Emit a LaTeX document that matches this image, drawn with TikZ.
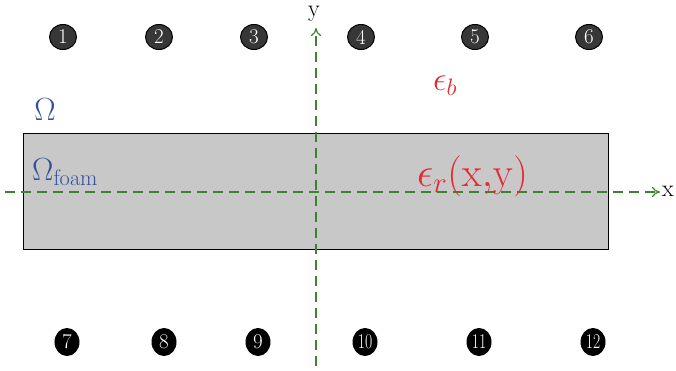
\RequirePackage{fix-cm}
\documentclass[tikz,border=0pt]{standalone}
\usetikzlibrary{shapes.geometric,arrows.meta}
\definecolor{boxgray}{RGB}{200,200,200}
\definecolor{topfill}{RGB}{55,55,55}
\definecolor{axgreen}{RGB}{60,130,50}
\definecolor{omblue}{RGB}{50,80,160}
\definecolor{epsred}{RGB}{230,40,50}
\tikzset{
  topnum/.style={ellipse,draw=black,line width=1pt,fill=topfill,text=white,
    minimum width=27pt,minimum height=25pt,inner sep=0pt,font=\fontsize{21}{21}\selectfont},
  botnum/.style={ellipse,draw=black,line width=1pt,fill=black,text=white,
    minimum width=24pt,minimum height=27pt,inner sep=0pt,font=\fontsize{21}{21}\selectfont},
  axisline/.style={draw=axgreen,line width=1.2pt,dash pattern=on 10pt off 6pt,-{To[length=8pt,width=10pt]}},
  axlabel/.style={inner sep=0pt,font=\fontsize{24}{24}\selectfont},
  bluelab/.style={text=omblue,inner sep=0pt,font=\fontsize{32}{32}\selectfont},
  redlab/.style={text=epsred,inner sep=0pt,font=\fontsize{34}{34}\selectfont},
}
\begin{document}
\begin{tikzpicture}[x=1pt,y=-1pt]
\useasboundingbox (0,0) rectangle (676,371);
\node[draw=black,line width=1pt,fill=boxgray,minimum width=585pt,minimum height=115pt,inner sep=0pt] (foam) at (315.5,191.5) {};
% axes
\coordinate (xs) at (5,192);
\coordinate (ys) at (316,366);
\coordinate (xe) at (660,192);
\coordinate (ye) at (316,28);
\node[axlabel,anchor=west] (xl) at (662,191) {x};
\node[axlabel,anchor=base] (yl) at (314,17) {y};
\draw[axisline] (xs) -- (xe);
\draw[axisline] (ys) -- (ye);
% labels
\node[bluelab] (om) at (45,110) {$\Omega$};
\node[bluelab,anchor=base west] (omf) at (32,181) {$\Omega_{\mathrm{foam}}$};
\node[redlab] (eb) at (445,86) {$\epsilon_b$};
\node[redlab,font=\fontsize{41}{41}\selectfont,anchor=base west] (er) at (417,186) {$\epsilon_r(\mathrm{x{,}y})$};
% numbers
\node[topnum] (n1) at (63,37) {1};
\node[topnum] (n2) at (159,37) {2};
\node[topnum] (n3) at (254,37) {3};
\node[topnum] (n4) at (361,37) {4};
\node[topnum] (n5) at (475,37) {5};
\node[topnum] (n6) at (589,37) {6};
\node[botnum] (n7) at (67,342) {7};
\node[botnum] (n8) at (164,342) {8};
\node[botnum] (n9) at (258,342) {9};
\node[botnum] (n10) at (365,342) {\scalebox{0.75}[1]{10}};
\node[botnum] (n11) at (479,342) {\scalebox{0.75}[1]{11}};
\node[botnum] (n12) at (593,342) {\scalebox{0.75}[1]{12}};
\end{tikzpicture}
\end{document}
